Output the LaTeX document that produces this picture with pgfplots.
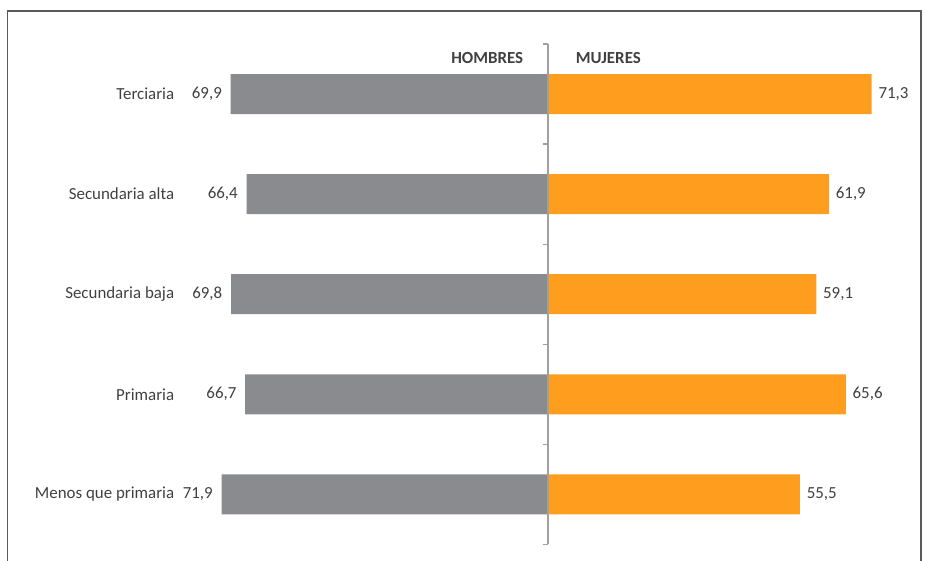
\documentclass[border=0pt]{standalone}
\usepackage{pgfplots}
\pgfplotsset{compat=1.18}
\usepackage{pgfplotstable}
\usepackage{fontspec}
\setmainfont{Carlito}

\definecolor{hgray}{RGB}{138,139,143}
\definecolor{morange}{RGB}{255,158,30}
\definecolor{txt}{RGB}{64,64,64}
\definecolor{frame}{RGB}{90,90,90}
\definecolor{midline}{RGB}{160,160,160}
\newcommand\fs{\fontsize{16.9}{20}\selectfont}

% pos: 4 = top row
\pgfplotstableread{
pos h m
4 69.9 71.3
3 66.4 61.9
2 69.8 59.1
1 66.7 65.6
0 71.9 55.5
}\datos

\begin{document}
\fs
\begin{tikzpicture}
\useasboundingbox (0pt,0pt) rectangle (925pt,561pt);
\draw[frame, line width=1.3pt] (7.5pt,-20pt) -- (7.5pt,550pt) -- (921pt,550pt) -- (921pt,-20pt);
\begin{axis}[
    at={(180.26pt,16.5pt)}, anchor=south west,
    scale only axis,
    width=730.94pt, height=500.5pt,
    xbar, bar width=40pt, bar shift=0pt,
    xmin=-81, xmax=80,
    ymin=-0.5, ymax=4.5,
    xtick=\empty,
    ytick={0,1,2,3,4},
    yticklabels={Menos que primaria, Primaria, Secundaria baja, Secundaria alta, Terciaria},
    yticklabel style={xshift=4pt},
    axis line style={draw=none},
    tick style={draw=none},
    tick label style={font=\fs, text=txt},
    clip=false,
    point meta=explicit,
    nodes near coords,
    every node near coord/.append style={font=\fs, text=txt},
    /pgf/number format/.cd, use comma, fixed, fixed zerofill, precision=1, assume math mode=true,
]
\addplot[fill=hgray, draw=none,
    every node near coord/.append style={anchor=east, xshift=-3pt}]
    table[x expr=-\thisrow{h}, y=pos, meta=h] {\datos};
\addplot[fill=morange, draw=none,
    every node near coord/.append style={anchor=west, xshift=1pt}]
    table[x=m, y=pos, meta=m] {\datos};
\draw[midline, line width=1.3pt] (axis cs:0,-0.5) -- (axis cs:0,4.5);
\draw[midline, line width=1.3pt]
    (axis cs:0,-0.5) -- ++(-5pt,0pt)
    (axis cs:0,0.5) -- ++(-5pt,0pt)
    (axis cs:0,1.5) -- ++(-5pt,0pt)
    (axis cs:0,2.5) -- ++(-5pt,0pt)
    (axis cs:0,3.5) -- ++(-5pt,0pt)
    (axis cs:0,4.5) -- ++(-5pt,0pt);
\end{axis}
\node[anchor=east, font=\fs\bfseries, text=txt] at (529pt,503pt) {HOMBRES};
\node[anchor=west, font=\fs\bfseries, text=txt] at (570pt,503pt) {MUJERES};
\end{tikzpicture}
\end{document}
